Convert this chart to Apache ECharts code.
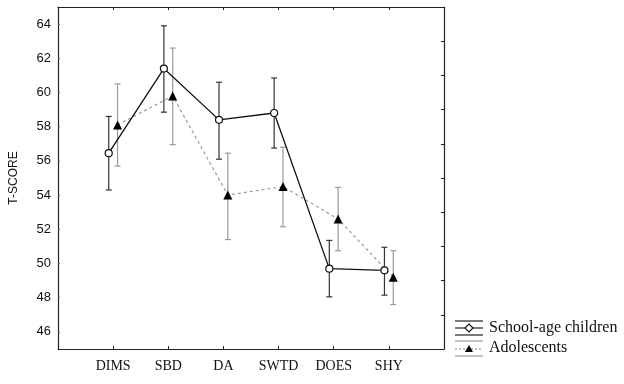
<!DOCTYPE html>
<html lang="en">

<head>
    <meta charset="UTF-8">
    <title>t-score chart</title>
    <script type="text/javascript" src="https://cdn.jsdelivr.net/npm/echarts@6/dist/echarts.min.js"></script>
</head>

<body style="margin:0;background:#fff;">
    <div id="main" style="width: 624px; height: 384px;"></div>

    <script type="text/javascript">
        // categories on the x axis (placed at 1..6 on a 0..7 scale)
        var cats = ['DIMS', 'SBD', 'DA', 'SWTD', 'DOES', 'SHY'];

        // school-age children: mean and error bar ends
        var schoolMean = [56.45, 61.4, 58.4, 58.8, 49.7, 49.6];
        var schoolLow = [54.3, 58.85, 56.1, 56.75, 48.05, 48.15];
        var schoolHigh = [58.6, 63.9, 60.6, 60.85, 51.35, 50.95];

        // adolescents
        var adolMean = [58.1, 59.8, 54.0, 54.5, 52.6, 49.2];
        var adolLow = [55.7, 56.95, 51.4, 52.15, 50.75, 47.6];
        var adolHigh = [60.5, 62.6, 56.45, 56.8, 54.45, 50.75];

        var yLabels = [46, 48, 50, 52, 54, 56, 58, 60, 62, 64];
        var rightTicks = [47, 49, 51, 53, 55, 57, 59, 61, 63];
        var xTicks = [1, 2, 3, 4, 5, 6];

        var shift = 0.08; // small side offset so the two groups don't overlap

        function pts(means, d) {
            return means.map(function (v, i) { return [i + 1 + d, v]; });
        }
        function bars(lo, hi, d) {
            return lo.map(function (v, i) { return [i + 1 + d, v, hi[i]]; });
        }

        function errorBar(color) {
            return function (params, api) {
                var x = api.value(0);
                var a = api.coord([x, api.value(1)]);
                var b = api.coord([x, api.value(2)]);
                var w = 3;
                var st = { stroke: color, lineWidth: 1.2 };
                return {
                    type: 'group',
                    children: [
                        { type: 'line', shape: { x1: a[0], y1: a[1], x2: b[0], y2: b[1] }, style: st },
                        { type: 'line', shape: { x1: a[0] - w, y1: a[1], x2: a[0] + w, y2: a[1] }, style: st },
                        { type: 'line', shape: { x1: b[0] - w, y1: b[1], x2: b[0] + w, y2: b[1] }, style: st }
                    ]
                };
            };
        }

        var myChart = echarts.init(document.getElementById('main'));

        var axisLine = { show: true, onZero: false, lineStyle: { color: '#222', width: 1.2 } };

        myChart.setOption({
            animation: false,
            grid: { left: 50, right: 180, top: 7, bottom: 35 },
            xAxis: [{
                type: 'value', min: 0, max: 7, position: 'bottom',
                axisLine: axisLine,
                axisTick: { inside: true, length: 3, customValues: xTicks, lineStyle: { color: '#222' } },
                axisLabel: {
                    customValues: xTicks, margin: 10,
                    fontFamily: 'Liberation Serif', fontSize: 14, color: '#111',
                    formatter: function (v) { return cats[v - 1] || ''; }
                },
                splitLine: { show: false }
            }, {
                type: 'value', min: 0, max: 7, position: 'top',
                axisLine: axisLine,
                axisTick: { inside: true, length: 3, customValues: xTicks, lineStyle: { color: '#222' } },
                axisLabel: { show: false },
                splitLine: { show: false }
            }],
            yAxis: [{
                type: 'value', min: 45, max: 65, position: 'left',
                name: 'T-SCORE', nameLocation: 'middle', nameGap: 38,
                nameTextStyle: { fontFamily: 'Liberation Sans', fontSize: 12, color: '#111' },
                axisLine: axisLine,
                axisTick: { inside: true, length: 2, customValues: yLabels, lineStyle: { color: '#666' } },
                axisLabel: {
                    customValues: yLabels, margin: 7,
                    fontFamily: 'Liberation Sans', fontSize: 13, color: '#111'
                },
                splitLine: { show: false }
            }, {
                type: 'value', min: 45, max: 65, position: 'right',
                axisLine: axisLine,
                axisTick: { inside: true, length: 3, customValues: rightTicks, lineStyle: { color: '#222' } },
                axisLabel: { show: false },
                splitLine: { show: false }
            }],
            series: [{
                name: 'Adolescents bars', type: 'custom', z: 1,
                renderItem: errorBar('#9a9a9a'),
                data: bars(adolLow, adolHigh, shift)
            }, {
                name: 'School-age children bars', type: 'custom', z: 2,
                renderItem: errorBar('#333'),
                data: bars(schoolLow, schoolHigh, -shift)
            }, {
                name: 'Adolescents', type: 'line', z: 3,
                data: pts(adolMean, shift),
                symbol: 'triangle', symbolSize: 9,
                itemStyle: { color: '#000' },
                lineStyle: { color: '#999', width: 1.2, type: [3, 3] }
            }, {
                name: 'School-age children', type: 'line', z: 4,
                data: pts(schoolMean, -shift),
                symbol: 'circle', symbolSize: 7,
                itemStyle: { color: '#fff', borderColor: '#111', borderWidth: 1.2 },
                lineStyle: { color: '#111', width: 1.3 }
            }],
            // legend drawn by hand so the icons can look like error bars
            graphic: [
                { type: 'line', shape: { x1: 455, y1: 321, x2: 483, y2: 321 }, style: { stroke: '#222', lineWidth: 1.2 } },
                { type: 'line', shape: { x1: 455, y1: 328, x2: 483, y2: 328 }, style: { stroke: '#222', lineWidth: 1.2 } },
                { type: 'line', shape: { x1: 455, y1: 335, x2: 483, y2: 335 }, style: { stroke: '#222', lineWidth: 1.2 } },
                { type: 'polygon', shape: { points: [[469, 324], [473, 328], [469, 332], [465, 328]] }, style: { fill: '#fff', stroke: '#111', lineWidth: 1.1 } },
                { type: 'line', shape: { x1: 455, y1: 341, x2: 483, y2: 341 }, style: { stroke: '#999', lineWidth: 1.2 } },
                { type: 'line', shape: { x1: 455, y1: 349, x2: 483, y2: 349 }, style: { stroke: '#999', lineWidth: 1.2, lineDash: [2, 2] } },
                { type: 'line', shape: { x1: 455, y1: 356, x2: 483, y2: 356 }, style: { stroke: '#999', lineWidth: 1.2 } },
                { type: 'polygon', shape: { points: [[469, 345], [473, 352], [465, 352]] }, style: { fill: '#000' } },
                { type: 'text', left: 489, top: 320, style: { text: 'School-age children', font: '16px "Liberation Serif"', fill: '#111' } },
                { type: 'text', left: 489, top: 340, style: { text: 'Adolescents', font: '16px "Liberation Serif"', fill: '#111' } }
            ]
        });
    </script>

</body>

</html>
